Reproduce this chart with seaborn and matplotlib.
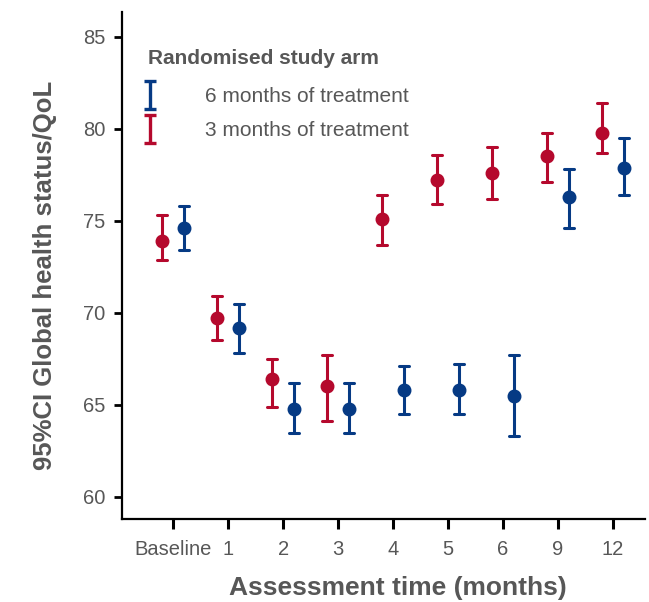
import numpy as np
import pandas as pd
import seaborn as sns
import matplotlib
matplotlib.use("Agg")
import matplotlib.pyplot as plt
from matplotlib.path import Path
from matplotlib.lines import Line2D

# ---- data ----
times = ["Baseline", "1", "2", "3", "4", "5", "6", "9", "12"]
arm_labels = ["3 months of treatment", "6 months of treatment"]

mean_3m = [73.9, 69.7, 66.4, 66.0, 75.1, 77.2, 77.6, 78.5, 79.8]
lo_3m   = [72.9, 68.5, 64.9, 64.1, 73.7, 75.9, 76.2, 77.1, 78.7]
hi_3m   = [75.3, 70.9, 67.5, 67.7, 76.4, 78.6, 79.0, 79.8, 81.4]

mean_6m = [74.6, 69.2, 64.8, 64.8, 65.8, 65.8, 65.5, 76.3, 77.9]
lo_6m   = [73.4, 67.8, 63.5, 63.5, 64.5, 64.5, 63.3, 74.6, 76.4]
hi_6m   = [75.8, 70.5, 66.2, 66.2, 67.1, 67.2, 67.7, 77.8, 79.5]

y_ticks = [60, 65, 70, 75, 80, 85]

colors = {"3 months of treatment": "#B5092D", "6 months of treatment": "#063A84"}
text_color = "#575757"

# long format: lower bound, mean, upper bound per group -> median + full range
rows = []
for arm, lo, mu, hi in [(arm_labels[0], lo_3m, mean_3m, hi_3m),
                        (arm_labels[1], lo_6m, mean_6m, hi_6m)]:
    for t, a, m, b in zip(times, lo, mu, hi):
        for v in (a, m, b):
            rows.append({"time": t, "arm": arm, "score": v})
df = pd.DataFrame(rows)

sns.set_theme(style="white")
plt.rcParams["font.family"] = ["Liberation Sans", "DejaVu Sans"]

fig = plt.figure(figsize=(6.49, 6.02), dpi=100)
ax = fig.add_axes([122 / 649, 1 - 519 / 602, (645 - 122) / 649, (519 - 12) / 602])

sns.pointplot(
    data=df, x="time", y="score", hue="arm", order=times, hue_order=arm_labels,
    palette=colors, estimator="median", errorbar=("pi", 100),
    dodge=0.4, linestyle="none", markers="o", markersize=8,
    capsize=0.18, err_kws={"linewidth": 2.2}, legend=False, ax=ax,
)

ax.set_xlim(-0.93, 8.58)
ax.set_ylim(58.8, 86.35)
ax.set_yticks(y_ticks)
ax.set_yticklabels([str(v) for v in y_ticks])

for side in ["top", "right"]:
    ax.spines[side].set_visible(False)
for side in ["left", "bottom"]:
    ax.spines[side].set_linewidth(1.6)
    ax.spines[side].set_color("black")

ax.tick_params(axis="both", which="major", direction="out", colors="black",
               labelcolor=text_color, labelsize=14.5)
ax.tick_params(axis="y", length=6, width=2, pad=6, left=True)
ax.tick_params(axis="x", length=7, width=2.2, pad=8, bottom=True)

ax.set_xlabel("Assessment time (months)", fontsize=19, fontweight="bold",
              color=text_color)
ax.set_ylabel("95%CI Global health status/QoL", fontsize=18.5, fontweight="bold",
              color=text_color)
ax.xaxis.set_label_coords((398 - 122) / 523, -(588 - 519) / 507)
ax.yaxis.set_label_coords(-(122 - 45) / 523, 1 - (275 - 12) / 507)
ax.xaxis.label.set_va("center")
ax.yaxis.label.set_va("center")

# I-beam legend handles
ibeam = Path([(-0.42, -1), (0.42, -1), (0, -1), (0, 1), (-0.42, 1), (0.42, 1)],
             [Path.MOVETO, Path.LINETO, Path.MOVETO, Path.LINETO, Path.MOVETO, Path.LINETO])
handles = [
    Line2D([], [], linestyle="none", marker=ibeam, markersize=20, markeredgewidth=2.4,
           markeredgecolor=colors["6 months of treatment"], markerfacecolor="none"),
    Line2D([], [], linestyle="none", marker=ibeam, markersize=20, markeredgewidth=2.4,
           markeredgecolor=colors["3 months of treatment"], markerfacecolor="none"),
]
leg = ax.legend(handles, ["6 months of treatment", "3 months of treatment"],
                title="Randomised study arm", loc="upper left",
                bbox_to_anchor=((148 - 122) / 523, 1 - (49 - 12) / 507),
                frameon=False, fontsize=15, title_fontsize=15,
                handlelength=0.2, handletextpad=2.54, borderpad=0.0,
                labelspacing=0.72, borderaxespad=0.0)
leg.get_title().set_fontweight("bold")
leg.get_title().set_color(text_color)
leg._legend_box.align = "left"
leg._legend_box.sep = 14
for t in leg.get_texts():
    t.set_color(text_color)

fig.savefig("out.png", dpi=100)
